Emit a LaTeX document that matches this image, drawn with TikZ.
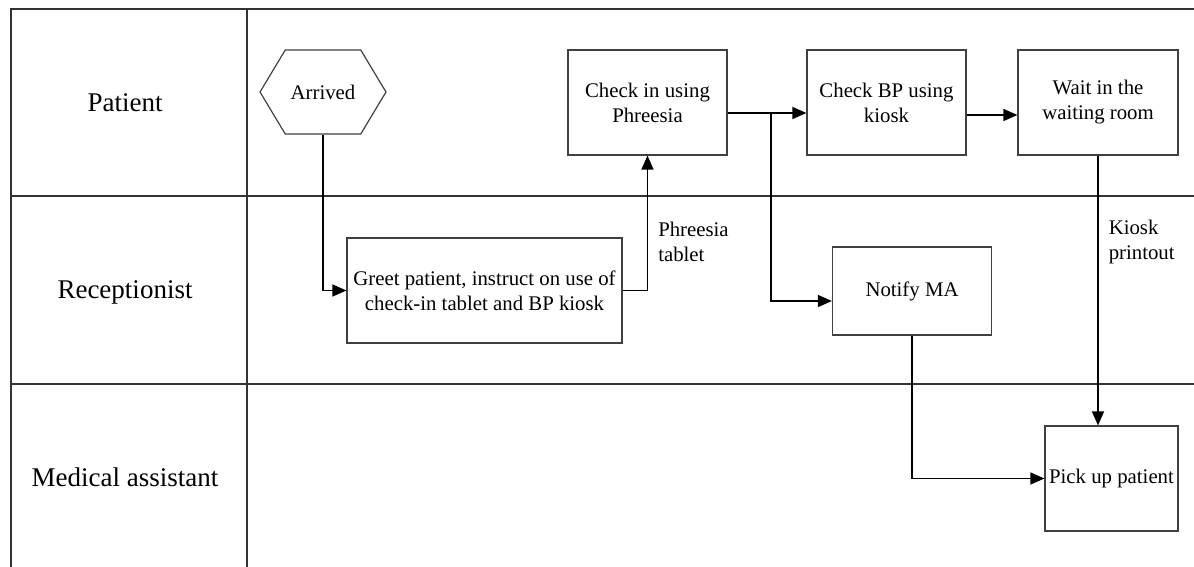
\documentclass[tikz,border=0pt]{standalone}
\usepackage{fontspec}
\setmainfont{Liberation Serif}
\usetikzlibrary{arrows.meta,shapes.symbols}

\begin{document}
\begin{tikzpicture}[x=0.5pt,y=-0.5pt,
    lane/.style={line width=1pt,black!80},
    box/.style={draw=black!75,line width=0.6pt,align=center,inner sep=1pt,font=\fontsize{10.4}{12.5}\selectfont},
    flow/.style={line width=0.75pt,-{Triangle[length=7pt,width=6pt]}},
    lbl/.style={font=\fontsize{13.5}{16}\selectfont},
    note/.style={align=left,anchor=west,inner sep=0pt,font=\fontsize{10.4}{12.5}\selectfont}]
        \useasboundingbox (0,0) rectangle (1194,567);
        % lanes
        \draw[lane] (11,567)--(11,9)--(1194,9);
        \draw[lane] (247,9)--(247,567);
        \draw[lane] (11,196)--(1194,196);
        \draw[lane] (11,384)--(1194,384);
        \node[lbl] (lpat) at (125,103) {Patient};
        \node[lbl] (lrec) at (125,292) {Receptionist};
        \node[lbl] (lma) at (125,477) {Medical assistant};

        % steps
        \node[box,shape=signal,signal to=east and west,signal pointer angle=118,minimum width=63pt,minimum height=42pt,inner sep=0pt] (arr) at (323,92) {Arrived};
        \node[box,minimum width=79.5pt,minimum height=52.5pt] (chk) at (647.5,102.5) {Check in using\\Phreesia};
        \node[box,minimum width=79.5pt,minimum height=52.5pt] (bp) at (886.5,102.5) {Check BP using\\kiosk};
        \node[box,minimum width=80pt,minimum height=52.5pt] (wait) at (1098,102.5) {Wait in the\\waiting room};
        \node[box,minimum width=137.5pt,minimum height=52.5pt] (greet) at (484.5,290.5) {Greet patient, instruct on use of\\check-in tablet and BP kiosk};
        \node[box,minimum width=79.5pt,minimum height=44pt] (notify) at (912,291) {Notify MA};
        \node[box,minimum width=66.5pt,minimum height=52.5pt] (pick) at (1111.5,478.5) {Pick up patient};
        \coordinate (br) at (771,113);

        % flows
        \draw[flow] (arr.south) |- (greet.west);
        \draw[flow] (greet.east) -| (chk.south) node[note,pos=0.68,xshift=5pt] {Phreesia\\tablet};
        \draw[flow] ([yshift=-5.25pt]chk.east) -- ([yshift=-5.25pt]bp.west);
        \draw[flow] (br) |- ([yshift=-5pt]notify.west);
        \draw[flow] ([yshift=-6.25pt]bp.east) -- ([yshift=-6.25pt]wait.west);
        \draw[flow] (wait.south) -- (wait.south |- pick.north) node[note,pos=0.32,xshift=5pt] {Kiosk\\printout};
        \draw[flow] (notify.south) |- (pick.west);
\end{tikzpicture}
\end{document}
